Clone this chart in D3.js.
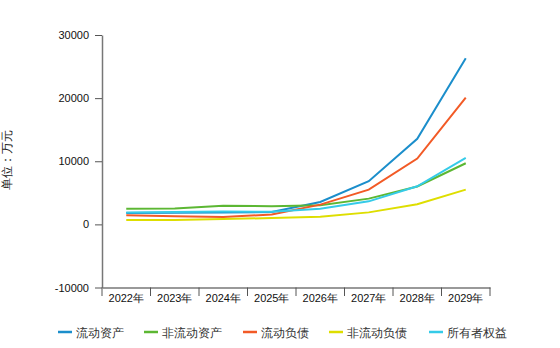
<!DOCTYPE html>
<html><head><meta charset="utf-8">
<script src="https://cdn.jsdelivr.net/npm/d3@7"></script>
<style>body{margin:0;background:#fff;} svg{display:block;font-family:"Liberation Sans","DejaVu Sans",sans-serif;}</style>
</head><body>
<svg id="c" width="560" height="348"></svg>
<script>
const categories = ["2022年","2023年","2024年","2025年","2026年","2027年","2028年","2029年"];
const seriesNames = ["流动资产","非流动资产","流动负债","非流动负债","所有者权益"];
const colors = ["#1b8ecb","#5cb733","#f25a26","#dede00","#35cbe8"];
const currentAssets = [1800, 1830, 1880, 1950, 3550, 6830, 13560, 26300];
const nonCurrentAssets = [2480, 2500, 2970, 2880, 3020, 4080, 6000, 9680];
const currentLiab = [1430, 1300, 1180, 1550, 3130, 5500, 10430, 20060];
const nonCurrentLiab = [680, 700, 850, 1000, 1220, 1900, 3180, 5510];
const equity = [1880, 1950, 2050, 2000, 2490, 3650, 6030, 10540];
const yTicks = [-10000, 0, 10000, 20000, 30000];
const seriesValues = [currentAssets, nonCurrentAssets, currentLiab, nonCurrentLiab, equity];

const svg = d3.select("#c");
const x = d3.scaleBand().domain(categories).range([102, 490]);
const y = d3.scaleLinear().domain([-10000, 30000]).range([287.5, 35]);

// y axis
const ya = svg.append("g").attr("transform","translate(102,0)")
  .call(d3.axisLeft(y).tickValues(yTicks).tickSize(7).tickSizeOuter(0).tickFormat(d=>String(d)));
ya.select(".domain").attr("stroke","#777").attr("stroke-width",1.5);
ya.selectAll(".tick line").attr("stroke","#555");
ya.selectAll(".tick text").attr("fill","#111").attr("font-size",11).attr("x",-13);

// x axis
const xa = svg.append("g").attr("transform","translate(0,287.5)")
  .call(d3.axisBottom(x).tickSize(0).tickSizeOuter(0));
xa.select(".domain").attr("stroke","#777").attr("stroke-width",1.5);
xa.selectAll(".tick text").attr("fill","#111").attr("font-size",11).attr("dy","1.05em");
const bounds = categories.map(c=>x(c)).concat([x.range()[1]]);
svg.append("g").selectAll("line").data(bounds).join("line")
  .attr("x1",d=>d).attr("x2",d=>d).attr("y1",287.5).attr("y2",296)
  .attr("stroke","#555").attr("stroke-width",1);

// y label
svg.append("text").attr("transform","translate(11,160) rotate(-90)")
  .attr("text-anchor","middle").attr("font-size",12).attr("fill","#222").text("单位：万元");

// lines
const line = d3.line().x((d,i)=>x(categories[i]) + x.bandwidth()/2).y(d=>y(d));
seriesValues.forEach((vals,k)=>{
  svg.append("path").datum(vals).attr("d",line).attr("fill","none")
    .attr("stroke",colors[k]).attr("stroke-width",2);
});

// legend
const legX = [58, 144, 243, 329, 429];
const lg = svg.append("g");
seriesNames.forEach((n,k)=>{
  lg.append("line").attr("x1",legX[k]).attr("x2",legX[k]+14).attr("y1",332).attr("y2",332)
    .attr("stroke",colors[k]).attr("stroke-width",2.5);
  lg.append("text").attr("x",legX[k]+18).attr("y",336.5).attr("font-size",12)
    .attr("fill","#333").text(n);
});
</script>
</body></html>
